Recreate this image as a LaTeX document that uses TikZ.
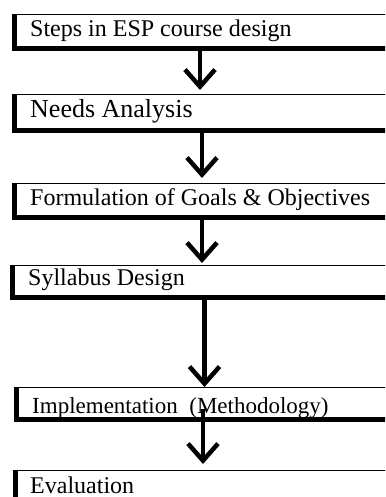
\documentclass[tikz,border=0pt]{standalone}
\usepackage{fontspec}
\setmainfont{Liberation Serif}
\usetikzlibrary{arrows.meta}

\begin{document}
\begin{tikzpicture}[x=1pt, y=-1pt,
    stepbox/.style={draw, line width=1pt, anchor=north west, minimum width=420pt, inner sep=0pt},
    steptext/.style={anchor=base west, inner sep=0pt, font=\fontsize{24}{28}\selectfont},
    edge/.style={line width=5pt},
    flow/.style={line width=4.5pt, -{Straight Barb[length=17pt, width=30pt]}}]
    \useasboundingbox (0, 0) rectangle (385, 497);
    \clip (0, 0) rectangle (385, 497);
    % boxes
    \node [stepbox, minimum height=33.5pt] (b1) at (14.5, 14) {};
    \node [stepbox, minimum height=36pt] (b2) at (14.5, 94) {};
    \node [stepbox, minimum height=33pt] (b3) at (14.5, 183) {};
    \node [stepbox, minimum height=31pt] (b4) at (12.5, 265) {};
    \node [stepbox, minimum height=31.5pt] (b5) at (16.5, 387) {};
    \node [stepbox, minimum height=40pt] (b6) at (15.5, 470) {};
    \foreach \b in {b1, b2, b3, b4, b5, b6}
        \draw [edge] (\b.north west) -- (\b.south west) -- (\b.south east);
    % texts
    \node [steptext] (t1) at (30, 37) {Steps in ESP course design};
    \node [steptext, font=\fontsize{26}{30}\selectfont] (t2) at (30, 118) {Needs Analysis};
    \node [steptext] (t3) at (30, 205) {Formulation of Goals \& Objectives};
    \node [steptext] (t4) at (28, 285) {Syllabus Design};
    \node [steptext, font=\fontsize{23}{27}\selectfont] (t5) at (32, 413) {Implementation~~(Methodology)};
    \node [steptext, text depth=0pt] (t6) at (30, 493) {Evaluation};
    % arrows
    \coordinate (a1) at (200, 0);
    \coordinate (a2) at (202, 0);
    \coordinate (a3) at (202, 0);
    \coordinate (a4) at (204.5, 0);
    \coordinate (a5) at (203, 0);
    \draw [flow] (b1.south -| a1) -- ([yshift=4pt]b2.north -| a1);
    \draw [flow] (b2.south -| a2) -- ([yshift=5pt]b3.north -| a2);
    \draw [flow] (b3.south -| a3) -- ([yshift=2pt]b4.north -| a3);
    \draw [flow] (b4.south -| a4) -- (b5.north -| a4);
    \draw [flow] ([yshift=10.5pt]b5.south -| a5) -- ([yshift=6pt]b6.north -| a5);
\end{tikzpicture}
\end{document}
